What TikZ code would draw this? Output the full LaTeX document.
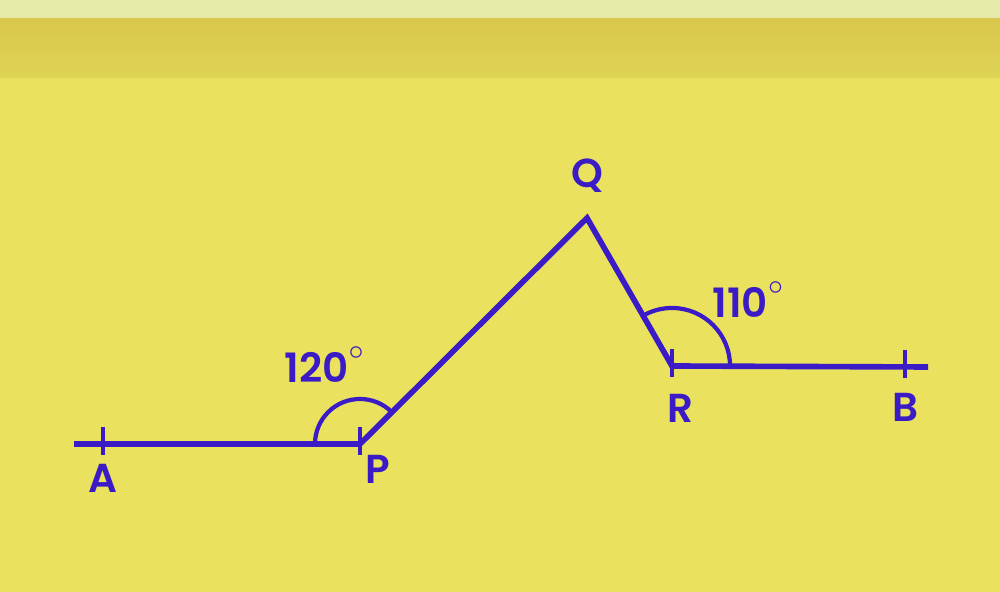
\documentclass[tikz,border=0pt]{standalone}
\usepackage{fontspec}
\setmainfont{Poppins}[UprightFont=* SemiBold]
\usetikzlibrary{positioning,angles,calc}
\definecolor{inkblue}{HTML}{3A1BC6}
\definecolor{paper}{HTML}{EAE15F}
\definecolor{band}{HTML}{D9C64D}
\definecolor{bandlow}{HTML}{DED456}
\definecolor{strip}{HTML}{E5E9AA}
\newcommand{\degmark}{\raisebox{0.58em}{$\scriptstyle\circ$}}
\tikzset{
  every node/.style={
    font=\fontsize{11.5}{13}\selectfont,
    text=inkblue,
    inner sep=0pt
  },
  segment/.style={
    draw=inkblue,
    line width=1.6pt
  },
  tick mark/.style={
    draw=inkblue,
    line width=1.25pt
  },
  angle mark/.style={
    draw=inkblue,
    line width=1.2pt,
    angle radius=#1
  }
}
\begin{document}
\begin{tikzpicture}[x=0.01cm,y=-0.01cm]
  % background
  \fill[paper] (0,0) rectangle (1000,592);
  \fill[strip] (0,0) rectangle (1000,18);
  \shade[top color=band,bottom color=bandlow] (0,19) rectangle (1000,78);
  \useasboundingbox (0,0) rectangle (1000,592);

  % points
  \coordinate (A) at (103,444);
  \coordinate (P) at (360,444);
  \coordinate (Q) at (587,218);
  \coordinate (R) at (672,366);
  \coordinate (B) at (905,367);
  \coordinate (Aend) at (74,444);
  \coordinate (Bend) at (928,367);

  % path
  \draw[segment,line join=miter] (Aend) -- (P) -- (Q) -- (R) -- (Bend);

  % ticks
  \foreach \pt in {A,P,R,B}
    \draw[tick mark] ($(\pt)+(0,-17)$) -- ($(\pt)+(0,11)$);

  % angles
  \pic[angle mark=0.45cm] {angle=Q--P--A};
  \pic[angle mark=0.58cm] {angle=B--R--Q};

  % labels
  \node[anchor=base] (labA) at (103,493) {A};
  \node[anchor=base] (labP) at (378,484) {P};
  \node[anchor=base] (labQ) at (587,188) {Q};
  \node[anchor=base] (labR) at (680,423) {R};
  \node[anchor=base] (labB) at (905,422) {B};
  \node[anchor=base west] (angP) at (284,383) {120\degmark};
  \node[anchor=base west] (angR) at (712,318) {110\degmark};
\end{tikzpicture}
\end{document}
